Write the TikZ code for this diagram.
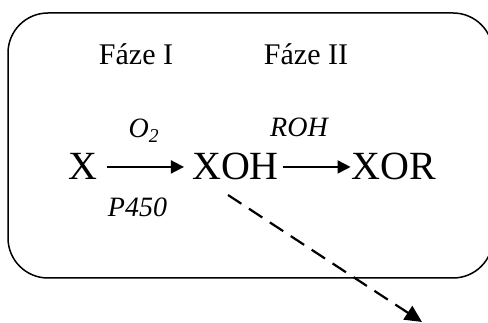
\documentclass[tikz,border=0pt]{standalone}
\usepackage{fontspec}
\setmainfont{Liberation Serif}
\usetikzlibrary{arrows.meta}
\begin{document}
\begin{tikzpicture}[x=1pt,y=-1pt,
  chem/.style={inner sep=0pt,anchor=base,font=\fontsize{40}{44}\selectfont},
  phase/.style={inner sep=0pt,anchor=base,font=\fontsize{30}{34}\selectfont},
  cond/.style={inner sep=0pt,anchor=base,font=\fontsize{28}{32}\selectfont\itshape},
  react/.style={line width=1.8pt,-{Triangle[length=13pt,width=13pt]}},
  frame/.style={line width=1.5pt,rounded corners=40pt}]
\useasboundingbox (0,0) rectangle (488,323);
\draw[frame] (8,13) rectangle (493,278);
\node[phase] (f1) at (136,65) {Fáze I};
\node[phase] (f2) at (306,65) {Fáze II};
\node[chem] (X) at (82.5,180) {X};
\node[chem] (XOH) at (235.5,180) {XOH};
\node[chem] (XOR) at (394,180) {XOR};
\node[cond] (o2) at (144,138) {O\textsubscript{2}};
\node[cond] (roh) at (299,137) {ROH};
\node[cond] (p450) at (137.5,217) {P450};
\draw[react,shorten <=10pt,shorten >=8pt] (X.east) -- (XOH.west);
\draw[react,shorten <=4pt,shorten >=1pt] (XOH.east) -- (XOR.west);
\coordinate (dstart) at (228,195);
\coordinate (dend) at (422,322);
\draw[line width=2.2pt,dash pattern=on 16pt off 9pt,-{Triangle[length=17pt,width=16pt]}] (dstart) -- (dend);
\end{tikzpicture}
\end{document}
